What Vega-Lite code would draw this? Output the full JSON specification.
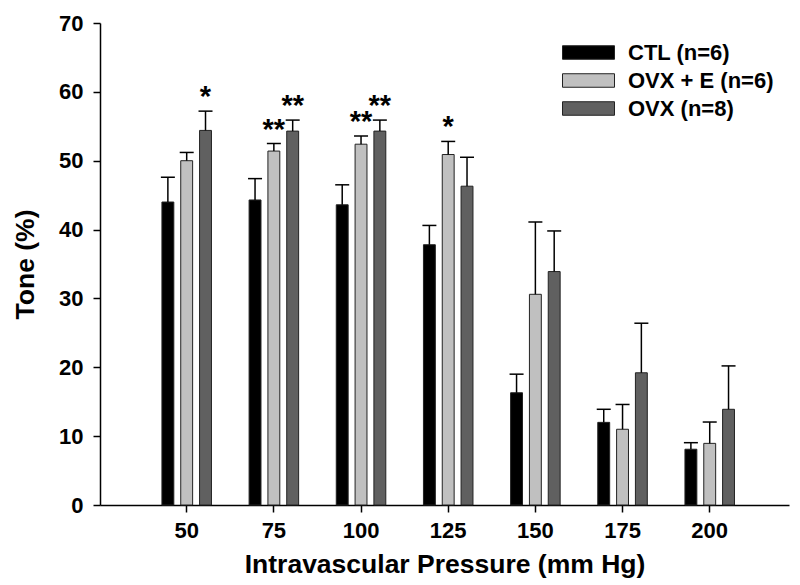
{
  "$schema": "https://vega.github.io/schema/vega-lite/v6.json",
  "width": 689,
  "height": 482,
  "autosize": {"type": "none"},
  "padding": {"left": 100, "top": 23, "right": 11, "bottom": 80},
  "background": "white",
  "config": {
    "view": {"stroke": null},
    "font": "Liberation Sans",
    "axis": {
      "domainColor": "#000",
      "domainWidth": 1.5,
      "tickColor": "#000",
      "tickWidth": 1.5,
      "tickSize": 7,
      "labelColor": "#000",
      "titleColor": "#000",
      "labelFont": "Liberation Sans",
      "titleFont": "Liberation Sans",
      "labelFontWeight": "bold",
      "titleFontWeight": "bold",
      "grid": false
    }
  },
  "data": {
    "values": [
      {"pressure": 50, "group": "CTL (n=6)", "mean": 44.0, "upper": 47.6, "sig": ""},
      {"pressure": 50, "group": "OVX + E (n=6)", "mean": 50.0, "upper": 51.2, "sig": ""},
      {"pressure": 50, "group": "OVX (n=8)", "mean": 54.4, "upper": 57.2, "sig": "*"},
      {"pressure": 75, "group": "CTL (n=6)", "mean": 44.3, "upper": 47.4, "sig": ""},
      {"pressure": 75, "group": "OVX + E (n=6)", "mean": 51.4, "upper": 52.5, "sig": "**"},
      {"pressure": 75, "group": "OVX (n=8)", "mean": 54.3, "upper": 55.9, "sig": "**"},
      {"pressure": 100, "group": "CTL (n=6)", "mean": 43.6, "upper": 46.5, "sig": ""},
      {"pressure": 100, "group": "OVX + E (n=6)", "mean": 52.4, "upper": 53.6, "sig": "**"},
      {"pressure": 100, "group": "OVX (n=8)", "mean": 54.3, "upper": 55.9, "sig": "**"},
      {"pressure": 125, "group": "CTL (n=6)", "mean": 37.8, "upper": 40.6, "sig": ""},
      {"pressure": 125, "group": "OVX + E (n=6)", "mean": 50.9, "upper": 52.8, "sig": "*"},
      {"pressure": 125, "group": "OVX (n=8)", "mean": 46.3, "upper": 50.5, "sig": ""},
      {"pressure": 150, "group": "CTL (n=6)", "mean": 16.3, "upper": 19.0, "sig": ""},
      {"pressure": 150, "group": "OVX + E (n=6)", "mean": 30.6, "upper": 41.1, "sig": ""},
      {"pressure": 150, "group": "OVX (n=8)", "mean": 33.9, "upper": 39.8, "sig": ""},
      {"pressure": 175, "group": "CTL (n=6)", "mean": 12.0, "upper": 13.9, "sig": ""},
      {"pressure": 175, "group": "OVX + E (n=6)", "mean": 11.0, "upper": 14.6, "sig": ""},
      {"pressure": 175, "group": "OVX (n=8)", "mean": 19.2, "upper": 26.4, "sig": ""},
      {"pressure": 200, "group": "CTL (n=6)", "mean": 8.1, "upper": 9.05, "sig": ""},
      {"pressure": 200, "group": "OVX + E (n=6)", "mean": 8.95, "upper": 12.05, "sig": ""},
      {"pressure": 200, "group": "OVX (n=8)", "mean": 13.9, "upper": 20.2, "sig": ""}
    ]
  },
  "encoding": {
    "x": {
      "field": "pressure",
      "type": "ordinal",
      "scale": {"paddingInner": 0, "paddingOuter": 0.452, "align": 0.547},
      "axis": {
        "title": "Intravascular Pressure (mm Hg)",
        "labelAngle": 0,
        "labelFontSize": 22,
        "titleFontSize": 26.5,
        "labelPadding": 8,
        "titlePadding": 10
      }
    },
    "xOffset": {
      "field": "group",
      "type": "nominal",
      "sort": ["CTL (n=6)", "OVX + E (n=6)", "OVX (n=8)"],
      "scale": {"paddingInner": 0.368, "paddingOuter": 1.19}
    }
  },
  "layer": [
    {
      "mark": {"type": "bar", "stroke": "#222", "strokeWidth": 1},
      "encoding": {
        "y": {
          "field": "mean",
          "type": "quantitative",
          "scale": {"domain": [0, 70], "nice": false},
          "axis": {
            "title": "Tone (%)",
            "values": [0, 10, 20, 30, 40, 50, 60, 70],
            "labelFontSize": 22,
            "titleFontSize": 26.5,
            "labelPadding": 10,
            "titlePadding": 19
          }
        },
        "color": {
          "field": "group",
          "type": "nominal",
          "sort": ["CTL (n=6)", "OVX + E (n=6)", "OVX (n=8)"],
          "scale": {
            "domain": ["CTL (n=6)", "OVX + E (n=6)", "OVX (n=8)"],
            "range": ["#000000", "#c0c0c0", "#606060"]
          },
          "legend": {
            "title": null,
            "orient": "none",
            "legendX": 462,
            "legendY": 16,
            "padding": 0,
            "symbolType": "M-1,-0.52H3V0.52H-1Z",
            "symbolSize": 676,
            "symbolStrokeColor": "#222",
            "symbolStrokeWidth": 1,
            "symbolOpacity": 1,
            "labelFontSize": 22,
            "labelFontWeight": "bold",
            "labelColor": "#000",
            "labelOffset": 39,
            "rowPadding": 3
          }
        }
      }
    },
    {
      "mark": {"type": "rule", "color": "#000", "strokeWidth": 1.5},
      "encoding": {
        "y": {"field": "mean", "type": "quantitative"},
        "y2": {"field": "upper"}
      }
    },
    {
      "mark": {"type": "tick", "color": "#000", "thickness": 1.5, "size": 14, "opacity": 1},
      "encoding": {
        "y": {"field": "upper", "type": "quantitative"}
      }
    },
    {
      "transform": [{"filter": "datum.sig != ''"}],
      "mark": {"type": "text", "fontSize": 29, "fontWeight": "bold", "baseline": "alphabetic", "dy": -5, "color": "#000"},
      "encoding": {
        "y": {"field": "upper", "type": "quantitative"},
        "text": {"field": "sig"}
      }
    }
  ]
}
